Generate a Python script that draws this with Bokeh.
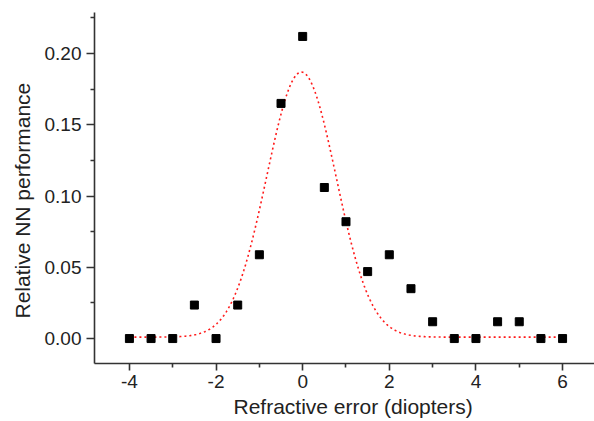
import numpy as np
from bokeh.plotting import figure
from bokeh.models import FixedTicker, NumeralTickFormatter, Range1d, Title
from bokeh.embed import file_html
from bokeh.resources import INLINE

# Measured data (refractive error in diopters vs relative NN performance)
x_err = [-4, -3.5, -3, -2.5, -2, -1.5, -1, -0.5, 0, 0.5, 1, 1.5, 2, 2.5, 3, 3.5, 4, 4.5, 5, 5.5, 6]
perf = [0.0, 0.0, 0.0, 0.0235, 0.0, 0.0235, 0.0588, 0.165, 0.212, 0.106, 0.082, 0.047,
        0.0588, 0.035, 0.0118, 0.0, 0.0, 0.0118, 0.0118, 0.0, 0.0]

# Gaussian fit parameters
fit_center = -0.03
fit_sigma = 0.80
fit_peak = 0.186
fit_base = 0.001

x_ticks = [-4, -2, 0, 2, 4, 6]
x_minor = [-5, -3, -1, 1, 3, 5]
y_ticks = [0.0, 0.05, 0.10, 0.15, 0.20]
y_minor = [0.025, 0.075, 0.125, 0.175, 0.225]

x_title = "Refractive error (diopters)"
y_title = "Relative NN performance"

fit_x = np.linspace(min(x_err), max(x_err), 501)
fit_y = fit_base + fit_peak * np.exp(-((fit_x - fit_center) ** 2) / (2 * fit_sigma ** 2))

p = figure(width=594, height=421, output_backend="svg", toolbar_location=None,
           x_range=Range1d(-4.806, 6.737), y_range=Range1d(-0.0175, 0.2288),
           min_border_left=93, min_border_right=0, min_border_top=12, min_border_bottom=58)
p.outline_line_color = None
p.grid.visible = False
p.background_fill_color = "white"
p.border_fill_color = "white"

p.line(fit_x, fit_y, line_color="#ff1a1a", line_width=1.6, line_dash="2 3")
p.scatter(x_err, perf, marker="square", size=8, fill_color="black", line_color="black")

for ax in (p.xaxis[0], p.yaxis[0]):
    ax.axis_line_color = "#333333"
    ax.axis_line_width = 1.6
    ax.major_tick_line_color = "#333333"
    ax.minor_tick_line_color = "#333333"
    ax.major_tick_line_width = 1.6
    ax.minor_tick_line_width = 1.6
    ax.major_tick_in = 0
    ax.minor_tick_in = 0
    ax.minor_tick_out = 4
    ax.major_label_text_font = "Liberation Sans"
    ax.major_label_text_font_size = "19px"
    ax.major_label_text_color = "#222222"

p.xaxis.ticker = FixedTicker(ticks=x_ticks, minor_ticks=x_minor)
p.yaxis.ticker = FixedTicker(ticks=y_ticks, minor_ticks=y_minor)
p.xaxis.formatter = NumeralTickFormatter(format="0")
p.yaxis.formatter = NumeralTickFormatter(format="0.00")
p.xaxis.major_tick_out = 7
p.yaxis.major_tick_out = 8
p.xaxis.major_label_standoff = 4
p.yaxis.major_label_standoff = 5

p.add_layout(Title(text=x_title, align="left", offset=139, standoff=4,
                   text_font="Liberation Sans", text_font_size="21px",
                   text_font_style="normal", text_color="#222222"), "below")
p.add_layout(Title(text=y_title, align="left", offset=45, standoff=16,
                   text_font="Liberation Sans", text_font_size="21px",
                   text_font_style="normal", text_color="#222222"), "left")

open("out.html", "w").write(file_html(p, INLINE))
